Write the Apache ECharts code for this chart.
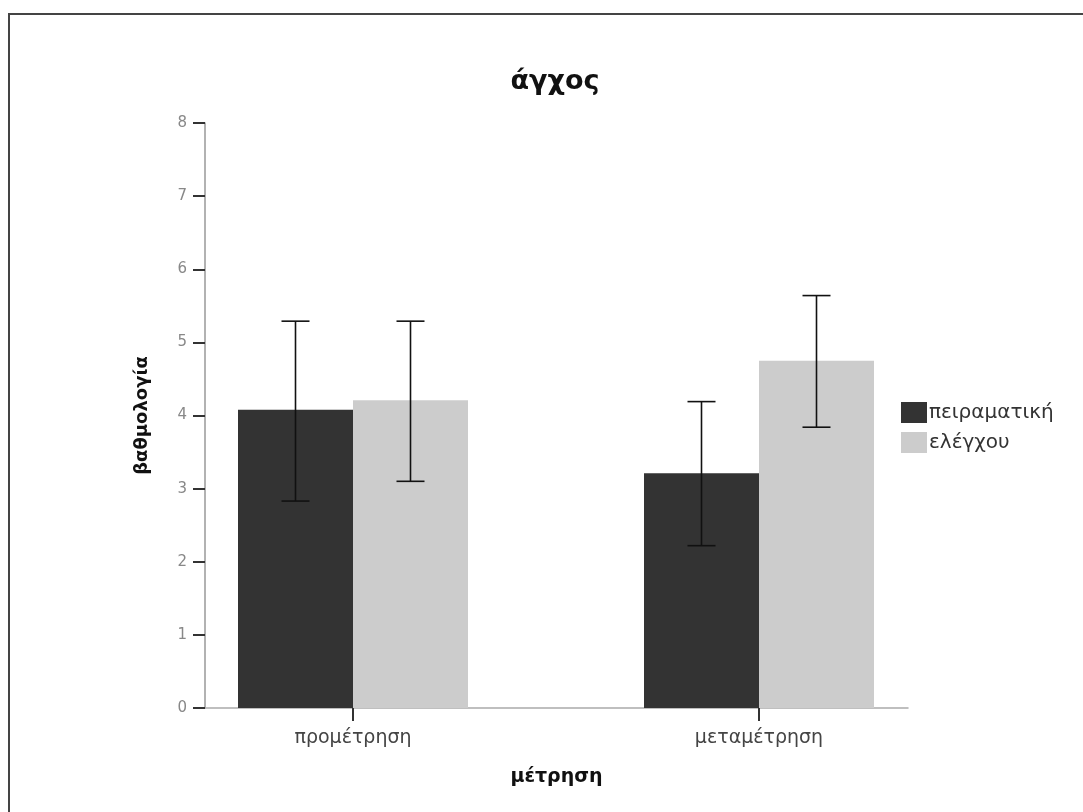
<!DOCTYPE html>
<html>
<head>
<meta charset="utf-8">
<script src="https://cdn.jsdelivr.net/npm/echarts@6/dist/echarts.min.js"></script>
<style>html,body{margin:0;padding:0;background:#fff}#c{width:1083px;height:812px}</style>
</head>
<body>
<div id="c"></div>
<script>
const categories = ['προμέτρηση', 'μεταμέτρηση'];
const groupNames = ['πειραματική', 'ελέγχου'];
const meansExp = [4.08, 3.21];
const meansCtl = [4.21, 4.75];
const lowExp = [2.83, 2.22];
const highExp = [5.29, 4.19];
const lowCtl = [3.10, 3.84];
const highCtl = [5.29, 5.64];
const yTicks = [0, 1, 2, 3, 4, 5, 6, 7, 8];

const BAR_W = 115;
const FONT = 'DejaVu Sans, Verdana, sans-serif';

function errorSeries(name, lows, highs, side) {
  return {
    type: 'custom',
    name: name + '_err',
    xAxisIndex: 1, yAxisIndex: 1,
    z: 10,
    silent: true,
    data: categories.map((c, i) => [i, lows[i], highs[i]]),
    renderItem: function (params, api) {
      const lo = api.coord([api.value(0), api.value(1)]);
      const hi = api.coord([api.value(0), api.value(2)]);
      const x = lo[0] + side * BAR_W / 2;
      const cap = 14;
      const style = { stroke: '#111', lineWidth: 1.6 };
      return {
        type: 'group',
        children: [
          { type: 'line', shape: { x1: x, y1: lo[1], x2: x, y2: hi[1] }, style: style },
          { type: 'line', shape: { x1: x - cap, y1: lo[1], x2: x + cap, y2: lo[1] }, style: style },
          { type: 'line', shape: { x1: x - cap, y1: hi[1], x2: x + cap, y2: hi[1] }, style: style }
        ]
      };
    }
  };
}

const chart = echarts.init(document.getElementById('c'), null, { renderer: 'canvas' });
chart.setOption({
  backgroundColor: '#fff',
  animation: false,
  textStyle: { fontFamily: FONT },
  title: {
    text: 'άγχος',
    left: 550,
    textAlign: 'center',
    top: 63,
    textStyle: { fontSize: 27, fontWeight: 'bold', color: '#111', fontFamily: FONT }
  },
  legend: {
    orient: 'vertical',
    left: 896,
    top: 397,
    itemWidth: 26,
    itemHeight: 21,
    itemGap: 9,
    icon: 'rect',
    data: groupNames,
    textStyle: { fontSize: 20, lineHeight: 21, color: '#333', fontFamily: FONT, padding: [0, 0, 0, -3] }
  },
  graphic: [{
    type: 'rect',
    shape: { x: 9, y: 14, width: 1200, height: 900 },
    style: { fill: 'none', stroke: '#444', lineWidth: 2 },
    silent: true
  }],
  grid: [
    { left: 205, right: 175, top: 123, bottom: 104 },
    { left: 150, right: 121, top: 123, bottom: 104 }
  ],
  xAxis: [
    {
      gridIndex: 0, type: 'category', data: categories,
      axisLine: { lineStyle: { color: '#aaa', width: 1.5 } },
      axisTick: { show: false },
      axisLabel: { show: false },
      name: 'μέτρηση', nameLocation: 'middle', nameGap: 60,
      nameTextStyle: { fontSize: 19, fontWeight: 'bold', color: '#111', fontFamily: FONT }
    },
    {
      gridIndex: 1, type: 'category', data: categories,
      axisLine: { show: false },
      axisTick: { show: true, alignWithLabel: true, length: 13, lineStyle: { color: '#333', width: 2 } },
      axisLabel: { fontSize: 19, color: '#444', margin: 21, fontFamily: FONT }
    }
  ],
  yAxis: [
    {
      gridIndex: 0, type: 'value', min: 0, max: 8, interval: 1,
      splitLine: { show: false },
      axisLine: { show: true, lineStyle: { color: '#999', width: 1.5 } },
      axisTick: { show: true, length: 12, lineStyle: { color: '#333', width: 2 } },
      axisLabel: { fontSize: 15, color: '#888', margin: 18, fontFamily: FONT,
        formatter: v => yTicks.includes(v) ? String(v) : '' },
      name: 'βαθμολογία', nameLocation: 'middle', nameGap: 54,
      nameTextStyle: { fontSize: 18, fontWeight: 'bold', color: '#111', fontFamily: FONT }
    },
    {
      gridIndex: 1, type: 'value', min: 0, max: 8, interval: 1, show: false,
      splitLine: { show: false }
    }
  ],
  series: [
    {
      name: groupNames[0], type: 'bar', xAxisIndex: 1, yAxisIndex: 1,
      data: meansExp, barWidth: BAR_W, barGap: '0%',
      itemStyle: { color: '#333333' }
    },
    {
      name: groupNames[1], type: 'bar', xAxisIndex: 1, yAxisIndex: 1,
      data: meansCtl, barWidth: BAR_W, barGap: '0%',
      itemStyle: { color: '#cccccc' }
    },
    errorSeries(groupNames[0], lowExp, highExp, -1),
    errorSeries(groupNames[1], lowCtl, highCtl, 1)
  ]
});
</script>
</body>
</html>
